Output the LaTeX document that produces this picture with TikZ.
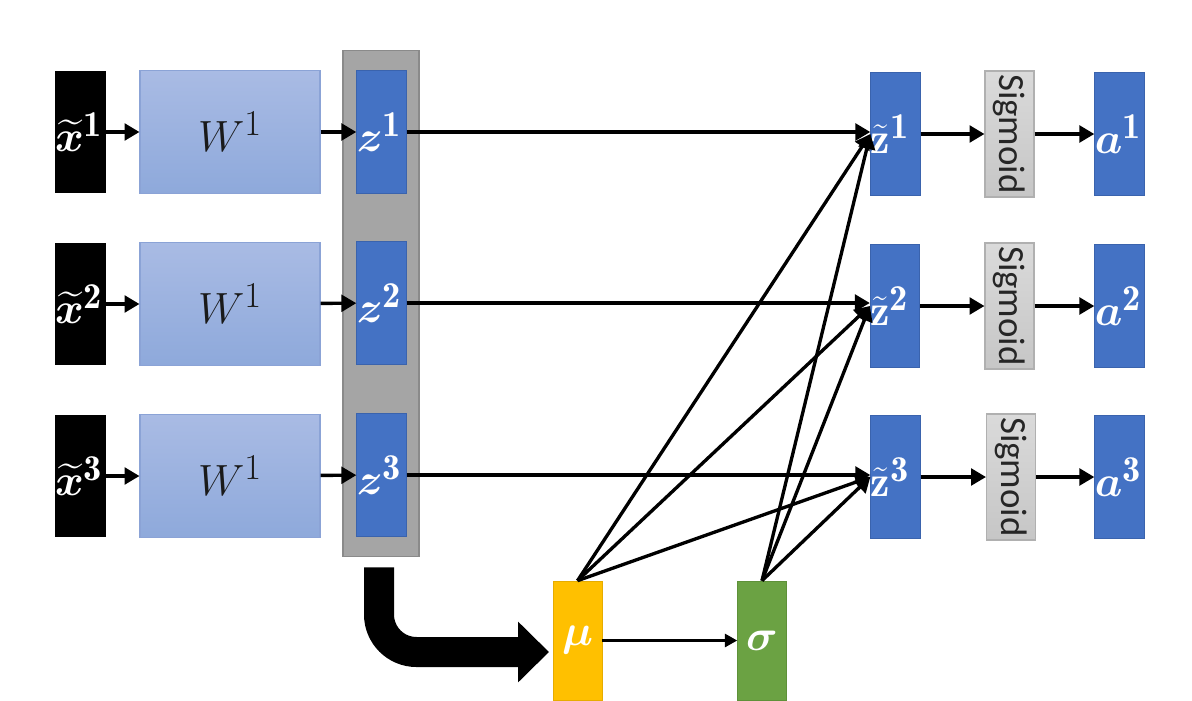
\documentclass[tikz,border=0pt]{standalone}
\usepackage{amsmath,bm}
\usepackage{fontspec}
\newfontfamily\carlito{Carlito}
\usetikzlibrary{arrows.meta,calc}
\definecolor{zblue}{HTML}{4472C4}
\definecolor{zedge}{HTML}{3A63AD}
\definecolor{wtop}{HTML}{A9BBE4}
\definecolor{wbot}{HTML}{8EA9DB}
\definecolor{wedge}{HTML}{8BA3D6}
\definecolor{pgray}{HTML}{A5A5A5}
\definecolor{pedge}{HTML}{8A8A8A}
\definecolor{sgtop}{HTML}{DADADA}
\definecolor{sgbot}{HTML}{C6C6C6}
\definecolor{sgedge}{HTML}{B0B0B0}
\definecolor{mucol}{HTML}{FFC000}
\definecolor{muedge}{HTML}{E6AC00}
\definecolor{sgcol}{HTML}{6BA243}
\definecolor{sgcedge}{HTML}{5E9139}
\definecolor{wtext}{HTML}{1A1A1A}
\begin{document}
\begin{tikzpicture}[x=0.02cm,y=-0.02cm,
  lab/.style={font=\fontsize{24.88}{28}\selectfont},
  blk/.style={fill=black, text=white, minimum width=1.02cm, minimum height=2.46cm,
    text width=1.02cm, align=left, inner sep=0pt, lab},
  wbox/.style={top color=wtop, bottom color=wbot, draw=wedge, line width=0.6pt,
    minimum width=3.6cm, minimum height=2.46cm, inner sep=0pt, text=wtext, lab},
  panel/.style={fill=pgray, draw=pedge, line width=0.6pt, minimum width=1.52cm,
    minimum height=10.14cm, inner sep=0pt},
  zbox/.style={fill=zblue, draw=zedge, line width=0.5pt, text=white,
    minimum width=0.99cm, minimum height=2.46cm, text width=0.99cm, align=left,
    inner sep=0pt, lab},
  sbox/.style={top color=sgtop, bottom color=sgbot, draw=sgedge, line width=0.6pt,
    rotate=-90, minimum width=2.52cm, minimum height=0.98cm, inner sep=0pt,
    text=black!85, font=\carlito\fontsize{21}{24}\selectfont},
  pbox/.style={minimum width=0.98cm, minimum height=2.38cm, inner sep=0pt,
    text=white, lab},
  arr/.style={line width=1.9pt, -{Triangle[length=8.5pt,width=9.5pt]}},
  thinarr/.style={line width=1.4pt, -{Triangle[length=7pt,width=7.5pt]}}
]
\useasboundingbox (0,0) rectangle (1192,700);
\fill[white] (0,0) rectangle (1192,700);

% left inputs
\node[blk] (x1) at (80.5,132) {$\bm{\widetilde{x}}^{\mathbf{1}}$};
\node[blk] (x2) at (80.5,304) {$\bm{\widetilde{x}}^{\mathbf{2}}$};
\node[blk] (x3) at (80.5,476) {$\bm{\widetilde{x}}^{\mathbf{3}}$};

% weight boxes
\node[wbox] (W1) at (230,132) {$W^1$};
\node[wbox] (W2) at (230,304) {$W^1$};
\node[wbox] (W3) at (230,476) {$W^1$};

% gray panel and z
\node[panel] (gp) at (381,303.5) {};
\node[zbox] (z1) at (381.5,132) {$\bm{z}^{\mathbf{1}}$};
\node[zbox] (z2) at (381.5,303) {$\bm{z}^{\mathbf{2}}$};
\node[zbox] (z3) at (381.5,475) {$\bm{z}^{\mathbf{3}}$};

% normalized z
\node[zbox] (zt1) at (895.5,134) {$\tilde{\mathbf{z}}^{\mathbf{1}}$};
\node[zbox] (zt2) at (895,306) {$\tilde{\mathbf{z}}^{\mathbf{2}}$};
\node[zbox] (zt3) at (895.5,477) {$\tilde{\mathbf{z}}^{\mathbf{3}}$};

% sigmoid
\node[sbox] (s1) at (1009.5,134) {Sigmoid};
\node[sbox] (s2) at (1009.5,306) {Sigmoid};
\node[sbox] (s3) at (1011,477) {Sigmoid};

% outputs
\node[zbox] (a1) at (1119.5,134) {$\bm{a}^{\mathbf{1}}$};
\node[zbox] (a2) at (1119.5,306) {$\bm{a}^{\mathbf{2}}$};
\node[zbox] (a3) at (1119.5,477) {$\bm{a}^{\mathbf{3}}$};

% mu and sigma
\node[pbox, fill=mucol, draw=muedge] (mu) at (577.5,640.5) {$\bm{\mu}$};
\node[pbox, fill=sgcol, draw=sgcedge] (sg) at (762,640.5) {$\bm{\sigma}$};

% row arrows
\foreach \i in {1,2,3}{
  \draw[arr] (x\i) -- (W\i);
  \draw[arr] (W\i) -- (z\i);
  \draw[arr] (z\i.east) -- (z\i.east -| zt\i.west);
  \draw[arr] (zt\i) -- (s\i);
  \draw[arr] (s\i) -- (a\i);
}

% fan from mu and sigma
\foreach \i in {1,2,3}{
  \draw[arr] (mu.north) -- (zt\i.west);
  \draw[arr] (sg.north) -- (zt\i.west);
}

\draw[thinarr] (mu) -- (sg);

% thick arrow from panel to mu
\coordinate (tks) at ($(gp.south)+(-2,10)$);
\coordinate (tke) at (549,652);
\draw[line width=0.6cm, rounded corners=0.75cm,
  -{Triangle[length=0.62cm,width=1.18cm]}] (tks) |- (tke);
\end{tikzpicture}
\end{document}
